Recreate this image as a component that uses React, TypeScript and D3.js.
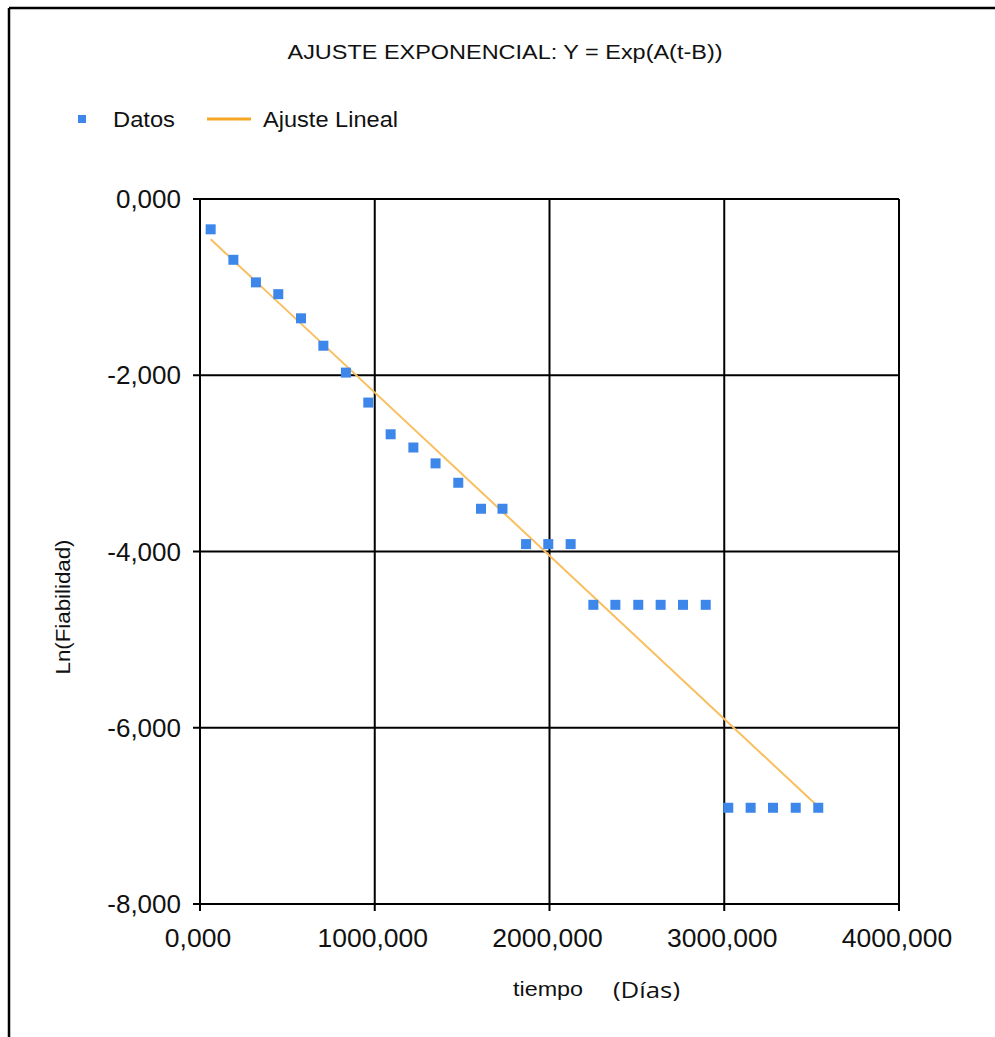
import React from "react";
import * as d3 from "d3";

const tiempo = [61, 191, 320, 448, 578, 706, 835, 963, 1091, 1221, 1348, 1478, 1608, 1731, 1866, 1993, 2121, 2251, 2377, 2508, 2636, 2764, 2894, 3023, 3151, 3279, 3409, 3538];
const lnFiab = [-0.344, -0.69, -0.946, -1.08, -1.354, -1.665, -1.97, -2.31, -2.67, -2.82, -3.0, -3.22, -3.515, -3.515, -3.916, -3.916, -3.916, -4.605, -4.605, -4.605, -4.605, -4.605, -4.605, -6.908, -6.908, -6.908, -6.908, -6.908];
const fitSlope = -0.0018519;
const fitIntercept = -0.344;
const xTicks = [0, 1000, 2000, 3000, 4000];
const yTicks = [0, -2, -4, -6, -8];
const xTickLabels = ["0,000", "1000,000", "2000,000", "3000,000", "4000,000"];
const yTickLabels = ["0,000", "-2,000", "-4,000", "-6,000", "-8,000"];

const W = 995;
const H = 1037;
const left = 200, right = 899, top = 199, bottom = 904;

export default function App() {
  const x = d3.scaleLinear().domain([0, 4000]).range([left, right]);
  const y = d3.scaleLinear().domain([0, -8]).range([top, bottom]);
  const xMin = d3.min(tiempo) as number;
  const xMax = d3.max(tiempo) as number;
  const fitLine = d3.line<number>().x((t) => x(t)).y((t) => y(fitIntercept + fitSlope * t));
  const font = "'Liberation Sans', Arial, sans-serif";
  const ms = 10;
  return (
    <svg width={W} height={H} style={{ position: "absolute", left: 0, top: 0, background: "#fff" }}>
      <rect x={0} y={0} width={W} height={H} fill="#fff" />
      <line x1={9} y1={8} x2={W} y2={8} stroke="#000" strokeWidth={2.5} />
      <line x1={9} y1={8} x2={9} y2={H} stroke="#000" strokeWidth={2.5} />
      <text x={505} y={59} textAnchor="middle" fontFamily={font} fontSize={20} fill="#111" textLength={435} lengthAdjust="spacingAndGlyphs">AJUSTE EXPONENCIAL: Y = Exp(A(t-B))</text>
      {/* legend */}
      <rect x={78} y={115} width={8} height={8} fill="#3d87ea" />
      <text x={113} y={127} fontFamily={font} fontSize={22} fill="#111" textLength={62} lengthAdjust="spacingAndGlyphs">Datos</text>
      <line x1={207} x2={251} y1={119} y2={119} stroke="#f5a623" strokeWidth={3} />
      <text x={263} y={127} fontFamily={font} fontSize={22} fill="#111" textLength={135} lengthAdjust="spacingAndGlyphs">Ajuste Lineal</text>
      {/* grid */}
      {xTicks.map((t) => (
        <line key={"gx" + t} x1={x(t)} x2={x(t)} y1={top} y2={bottom + 7} stroke="#000" strokeWidth={2} />
      ))}
      {yTicks.map((t) => (
        <line key={"gy" + t} x1={left - 7} x2={right} y1={y(t)} y2={y(t)} stroke="#000" strokeWidth={2} />
      ))}
      {/* tick labels */}
      {yTicks.map((t, i) => (
        <text key={"ly" + t} x={181} y={y(t) + 9} textAnchor="end" fontFamily={font} fontSize={26} fill="#111">{yTickLabels[i]}</text>
      ))}
      {xTicks.map((t, i) => (
        <text key={"lx" + t} x={x(t) - 2} y={947} textAnchor="middle" fontFamily={font} fontSize={26.5} fill="#111">{xTickLabels[i]}</text>
      ))}
      {/* axis titles */}
      <text x={548} y={996} textAnchor="middle" fontFamily={font} fontSize={21} fill="#111" textLength={70} lengthAdjust="spacingAndGlyphs">tiempo</text>
      <text x={613} y={998} fontFamily="'Open Sans', sans-serif" fontSize={22} fill="#111" textLength={67} lengthAdjust="spacingAndGlyphs">(Días)</text>
      <text transform={`translate(70,607) rotate(-90)`} textAnchor="middle" fontFamily={font} fontSize={21} fill="#111" textLength={135} lengthAdjust="spacingAndGlyphs">Ln(Fiabilidad)</text>
      {/* fit line */}
      <path d={fitLine([xMin, xMax]) || ""} fill="none" stroke="#f9bf5e" strokeWidth={2} />
      {/* data */}
      {tiempo.map((t, i) => (
        <rect key={"p" + i} x={x(t) - ms / 2} y={y(lnFiab[i]) - ms / 2} width={ms} height={ms} fill="#3d87ea" />
      ))}
    </svg>
  );
}
